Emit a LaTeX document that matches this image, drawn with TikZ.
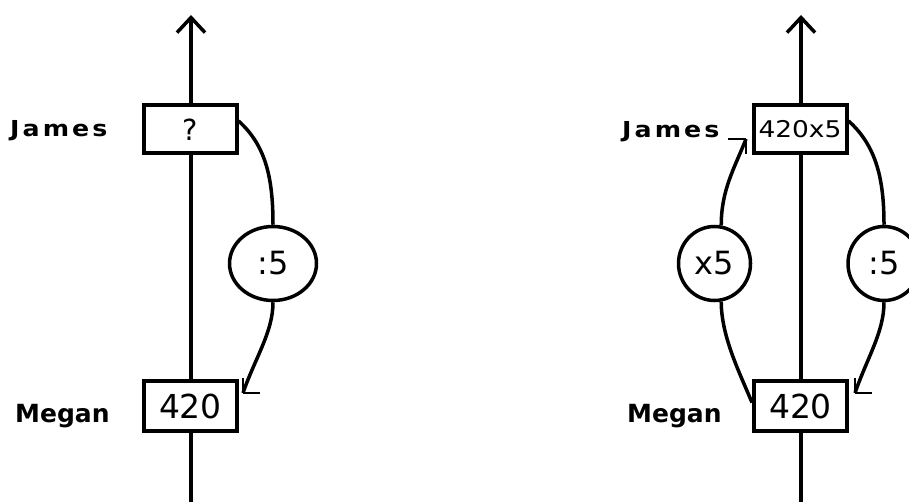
\documentclass[tikz,border=0pt]{standalone}
\usepackage{fontspec}
\setmainfont{DejaVu Sans}
\newfontfamily\namefont{DejaVu Sans}[LetterSpace=12]
\usetikzlibrary{arrows.meta,shapes.geometric}

\begin{document}
\begin{tikzpicture}[x=1pt,y=-1pt,
  axis/.style={line width=3.5pt,-{Straight Barb[length=15pt,width=28pt]}},
  valbox/.style={draw,line width=4pt,fill=white,minimum width=93pt,
    minimum height=48pt,inner sep=0pt},
  opcirc/.style={draw,ellipse,line width=3.5pt,fill=white,inner sep=0pt,
    minimum height=74pt,font=\fontsize{32}{32}\selectfont},
  link/.style={line width=3.5pt},
  barb/.style={line width=2.5pt},
  who/.style={anchor=base west,inner sep=0pt},
  whoJ/.style={who,font=\namefont\bfseries\fontsize{22}{22}\selectfont},
  whoM/.style={who,font=\bfseries\fontsize{25}{25}\selectfont}
]
\useasboundingbox (0,0) rectangle (909,502);

% ---------- left: James from Megan by division ----------
\coordinate (aLb) at (191,502);
\coordinate (aLt) at (191,15);
\draw[axis] (aLb) -- (aLt);

\node[valbox,font=\fontsize{29}{29}\selectfont] (jL) at (190,129.5) {?};
\node[valbox,minimum height=50pt,font=\fontsize{33}{33}\selectfont] (mL) at (190.5,406) {420};
\node[opcirc,minimum width=87pt] (dL) at (273,263.5) {:5};

\node[whoJ] (nJL) at (10,137) {\scalebox{1.15}[1]{James}};
\node[whoM] (nML) at (15,422) {Megan};

\coordinate (tipL) at (243,393);
\draw[link] (jL.10) .. controls +(28,25) and +(0,-45) .. (dL.north);
\draw[link] (dL.south) .. controls +(0,30) and +(12,-35) .. (tipL);
\draw[barb] (tipL) -- ++(17,0) (tipL) -- ++(0,-15);

% ---------- right: there and back again ----------
\coordinate (aRb) at (801,502);
\coordinate (aRt) at (801,15);
\draw[axis] (aRb) -- (aRt);

\node[valbox,font=\fontsize{23}{23}\selectfont] (jR) at (800,129.5) {\scalebox{1.15}[1]{420x5}};
\node[valbox,minimum height=50pt,font=\fontsize{33}{33}\selectfont] (mR) at (800.5,406) {420};
\node[opcirc,minimum width=72pt] (mulR) at (714.5,263.5) {x5};
\node[opcirc,minimum width=72pt] (divR) at (884,263.5) {:5};

\node[whoJ] (nJR) at (622,138) {\scalebox{1.15}[1]{James}};
\node[whoM] (nMR) at (627,422) {Megan};

\coordinate (tipJ) at (746,139);
\coordinate (tipR) at (855,393);
\draw[link] (mR.176) .. controls +(-12,-29) and +(0,35) .. (mulR.-80);
\draw[link] (mulR.80) .. controls +(0,-35) and +(-12,30) .. (tipJ);
\draw[barb] (tipJ) -- ++(-18,0) (tipJ) -- ++(0,15);
\draw[link] (jR.10) .. controls +(28,25) and +(0,-45) .. (divR.north);
\draw[link] (divR.south) .. controls +(0,30) and +(12,-35) .. (tipR);
\draw[barb] (tipR) -- ++(17,0) (tipR) -- ++(0,-15);
\end{tikzpicture}
\end{document}
